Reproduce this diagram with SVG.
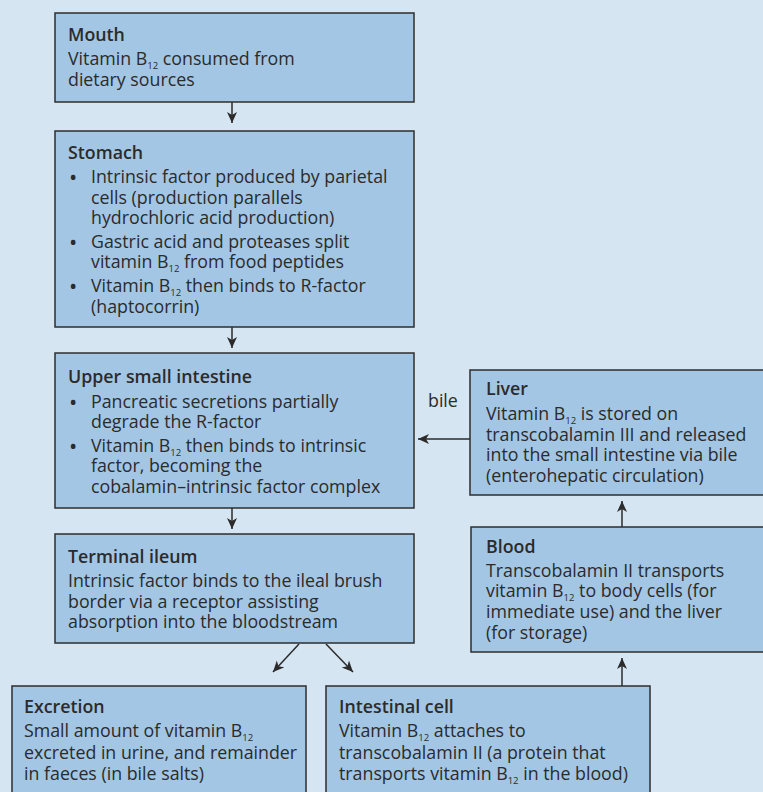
<svg xmlns="http://www.w3.org/2000/svg" width="763" height="792" viewBox="0 0 763 792">
<style>
.box{fill:#a3c6e4;stroke:#2e2e2e;stroke-width:1.5}
text{font-family:"Open Sans","Liberation Sans",sans-serif;font-size:17.8px;fill:#2b2b2b}
.h{font-weight:600}
.s{font-size:9.5px}
.b{font-size:22px}
.c{stroke:#2b2b2b;stroke-width:1.5;fill:none;marker-end:url(#ah)}
</style>
<defs>
<marker id="ah" markerUnits="userSpaceOnUse" markerWidth="12" markerHeight="12" refX="11" refY="6" orient="auto">
<path d="M0,1 L11,6 L0,11 L3,6 z" fill="#2b2b2b"/>
</marker>
</defs>
<rect width="763" height="792" fill="#d6e5f2"/>
<g id="connectors">
<line class="c" x1="232" y1="102" x2="232" y2="123"/>
<line class="c" x1="232" y1="327" x2="232" y2="348"/>
<line class="c" x1="232" y1="508" x2="232" y2="529"/>
<line class="c" x1="299" y1="644" x2="273" y2="672"/>
<line class="c" x1="326" y1="644" x2="353" y2="672"/>
<line class="c" x1="622" y1="686" x2="622" y2="658"/>
<line class="c" x1="622" y1="527" x2="622" y2="501"/>
<line class="c" x1="470" y1="439" x2="418" y2="439"/>
<text x="428" y="407">bile</text>
</g>
<g id="mouth">
<rect class="box" x="55" y="13" width="359" height="89"/>
<text class="h" x="68" y="41">Mouth</text>
<text x="68" y="65">Vitamin B<tspan class="s" baseline-shift="-4">12</tspan> consumed from</text>
<text x="68" y="86">dietary sources</text>
</g>
<g id="stomach">
<rect class="box" x="55" y="131" width="359" height="196"/>
<text class="h" x="68" y="159">Stomach</text>
<text class="b" x="69" y="185">•</text>
<text x="91" y="183">Intrinsic factor produced by parietal</text>
<text x="91" y="204">cells (production parallels</text>
<text x="91" y="224">hydrochloric acid production)</text>
<text class="b" x="69" y="250">•</text>
<text x="91" y="248">Gastric acid and proteases split</text>
<text x="91" y="268">vitamin B<tspan class="s" baseline-shift="-4">12</tspan> from food peptides</text>
<text class="b" x="69" y="294">•</text>
<text x="91" y="292">Vitamin B<tspan class="s" baseline-shift="-4">12</tspan> then binds to R-factor</text>
<text x="91" y="313">(haptocorrin)</text>
</g>
<g id="upper">
<rect class="box" x="55" y="353" width="359" height="155"/>
<text class="h" x="68" y="383">Upper small intestine</text>
<text class="b" x="69" y="410">•</text>
<text x="91" y="408">Pancreatic secretions partially</text>
<text x="91" y="428">degrade the R-factor</text>
<text class="b" x="69" y="454">•</text>
<text x="91" y="452">Vitamin B<tspan class="s" baseline-shift="-4">12</tspan> then binds to intrinsic</text>
<text x="91" y="472">factor, becoming the</text>
<text x="91" y="493">cobalamin–intrinsic factor complex</text>
</g>
<g id="ileum">
<rect class="box" x="55" y="534" width="359" height="109"/>
<text class="h" x="68" y="563">Terminal ileum</text>
<text x="68" y="587">Intrinsic factor binds to the ileal brush</text>
<text x="68" y="608">border via a receptor assisting</text>
<text x="68" y="628">absorption into the bloodstream</text>
</g>
<g id="excretion">
<rect class="box" x="12" y="686" width="294" height="120"/>
<text class="h" x="24" y="713">Excretion</text>
<text x="24" y="737">Small amount of vitamin B<tspan class="s" baseline-shift="-4">12</tspan></text>
<text x="24" y="759">excreted in urine, and remainder</text>
<text x="24" y="780">in faeces (in bile salts)</text>
</g>
<g id="intestinal">
<rect class="box" x="326" y="686" width="324" height="120"/>
<text class="h" x="339" y="713">Intestinal cell</text>
<text x="339" y="737">Vitamin B<tspan class="s" baseline-shift="-4">12</tspan> attaches to</text>
<text x="339" y="759">transcobalamin II (a protein that</text>
<text x="339" y="780">transports vitamin B<tspan class="s" baseline-shift="-4">12</tspan> in the blood)</text>
</g>
<g id="blood">
<rect class="box" x="471" y="527" width="310" height="125"/>
<text class="h" x="486" y="553">Blood</text>
<text x="486" y="577">Transcobalamin II transports</text>
<text x="486" y="597">vitamin B<tspan class="s" baseline-shift="-4">12</tspan> to body cells (for</text>
<text x="486" y="618">immediate use) and the liver</text>
<text x="486" y="639">(for storage)</text>
</g>
<g id="liver">
<rect class="box" x="470" y="370" width="310" height="125"/>
<text class="h" x="486" y="395">Liver</text>
<text x="486" y="420">Vitamin B<tspan class="s" baseline-shift="-4">12</tspan> is stored on</text>
<text x="486" y="441">transcobalamin III and released</text>
<text x="486" y="461">into the small intestine via bile</text>
<text x="486" y="482">(enterohepatic circulation)</text>
</g>
</svg>
